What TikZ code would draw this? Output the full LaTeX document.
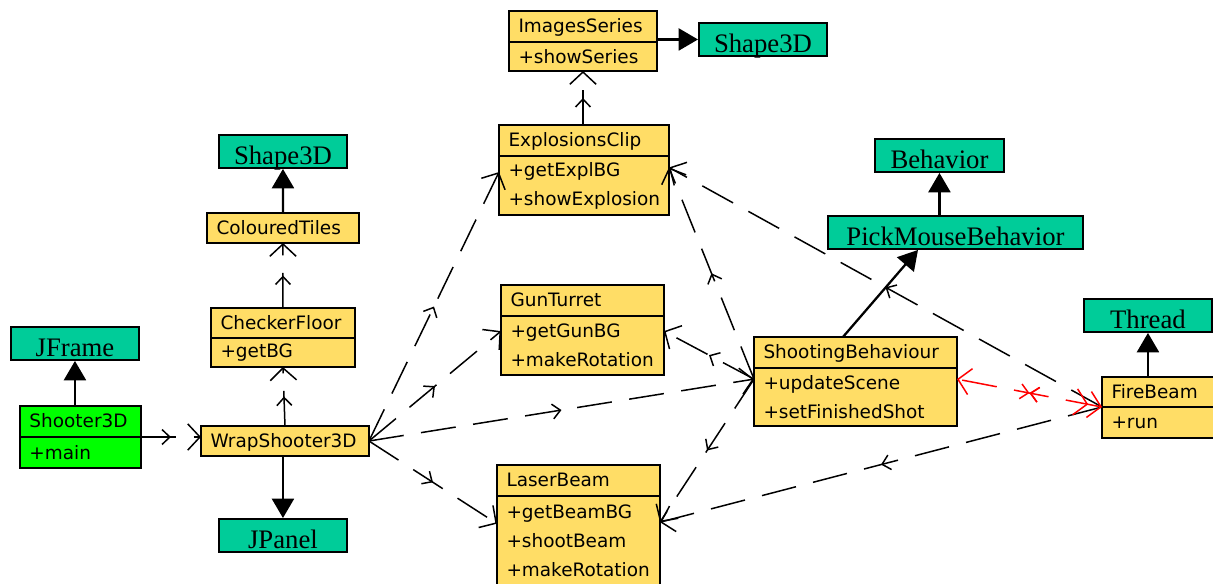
\documentclass[tikz,border=0pt]{standalone}
\usepackage{fontspec}
\setmainfont{Liberation Serif}
\newfontfamily\dlgfont{DejaVu Sans}
\usetikzlibrary{arrows.meta,decorations.markings}
\definecolor{clsyellow}{HTML}{FFDD66}
\definecolor{libgreen}{HTML}{00CC99}
\definecolor{maingreen}{HTML}{00FF00}
\tikzset{
  barb/.tip={Straight Barb[length=7pt,width=15pt]},
  midbarb/.tip={Straight Barb[length=4.5pt,width=8.5pt]},
  lib/.style={draw, line width=1.1pt, fill=libgreen, anchor=north west, inner sep=0pt,
    font=\fontsize{15.2}{18}\selectfont, text height=14.5pt, text depth=0pt,
    minimum width=#1, minimum height=0.66cm},
  hd/.style={draw, line width=1.1pt, fill=clsyellow, anchor=north west, inner xsep=0.19cm, inner ysep=0pt,
    outer sep=0pt, font=\dlgfont\fontsize{10.5}{16.5}\selectfont, align=left, text width=#1,
    text height=7.8pt, text depth=0.6pt, minimum height=0.62cm},
  bd/.style={draw, line width=1.1pt, fill=clsyellow, anchor=north, inner xsep=0.19cm, inner ysep=0pt,
    outer sep=0pt, font=\dlgfont\fontsize{10.5}{16.5}\selectfont, align=left, text width=#1},
  inh/.style={line width=1.3pt, -{Triangle[length=11pt,width=12.5pt]}},
  dep/.style={line width=0.85pt, dash pattern=on 20pt off 10pt, -barb, postaction={decorate},
    decoration={markings, mark=at position 0.5 with {\arrow{midbarb}}}},
}
\begin{document}
\begin{tikzpicture}[x=0.02cm,y=-0.02cm]
\useasboundingbox (0,0) rectangle (1213,583);
\clip (0,0) rectangle (1213,583);

% classes
\node[hd=2.58cm] (imgs) at (509,11) {ImagesSeries};
\node[bd=2.58cm, minimum height=0.58cm] (imgsB) at (imgs.south) {+showSeries};
\node[hd=3.02cm] (expl) at (499,125) {ExplosionsClip};
\node[bd=3.02cm, minimum height=1.18cm] (explB) at (expl.south) {+getExplBG\\+showExplosion};
\node[hd=2.88cm] (gun) at (501,285) {GunTurret};
\node[bd=2.88cm, minimum height=1.18cm] (gunB) at (gun.south) {+getGunBG\\+makeRotation};
\node[hd=2.88cm] (laser) at (497,465) {LaserBeam};
\node[bd=2.88cm, minimum height=1.80cm] (laserB) at (laser.south) {+getBeamBG\\+shootBeam\\+makeRotation};
\node[hd=3.68cm] (shoot) at (754,337) {ShootingBehaviour};
\node[bd=3.68cm, minimum height=1.16cm] (shootB) at (shoot.south) {+updateScene\\+setFinishedShot};
\node[hd=2.12cm, minimum height=0.60cm] (fire) at (1102,377) {FireBeam};
\node[bd=2.12cm, minimum height=0.62cm] (fireB) at (fire.south) {+run};
\node[hd=2.50cm, minimum height=0.60cm] (checker) at (211,308) {CheckerFloor};
\node[bd=2.50cm, minimum height=0.58cm] (checkerB) at (checker.south) {+getBG};
\node[hd=2.66cm, minimum height=0.60cm] (tiles) at (207,213) {ColouredTiles};
\node[hd=2.98cm, minimum height=0.60cm] (wrap) at (201,426) {WrapShooter3D};
\node[hd=2.04cm, fill=maingreen] (shooter) at (20,406) {Shooter3D};
\node[bd=2.04cm, fill=maingreen, minimum height=0.62cm] (shooterB) at (shooter.south) {+main};

% library classes
\node[lib=2.56cm] (shapeT) at (698,22) {Shape3D};
\node[lib=2.56cm] (shapeL) at (218,134) {Shape3D};
\node[lib=2.56cm] (jframe) at (10,326) {JFrame};
\node[lib=2.56cm] (jpanel) at (218,518) {JPanel};
\node[lib=2.58cm] (behavior) at (874,138) {Behavior};
\node[lib=5.10cm] (pickmouse) at (827,215) {PickMouseBehavior};
\node[lib=2.56cm] (thread) at (1083,298) {Thread};

% inheritance
\draw[inh] (imgs.east |- shapeT.west) -- (shapeT.west);
\draw[inh] (tiles.north) -- (shapeL.south);
\draw[inh] (shooter.north -| jframe.south) -- (jframe.south);
\draw[inh] (jpanel.north |- wrap.south) -- (jpanel.north);
\draw[inh] (behavior.south |- pickmouse.north) -- (behavior.south);
\draw[inh] (shoot.129) -- (pickmouse.205);
\draw[inh] (thread.south |- fire.north) -- (thread.south);

% dependencies
\draw[dep] (imgs.south |- expl.north) -- (imgsB.south);
\draw[dep] (checker.north) -- (tiles.south);
\draw[dep] (wrap.north) -- (checkerB.south);
\draw[dep] (shooter.south east) -- (shooter.south east -| wrap.west);
\draw[dep] (wrap.east) -- (explB.171);
\draw[dep] (wrap.east) -- (gunB.170);
\draw[dep] (wrap.east) -- (shootB.170);
\draw[dep] (wrap.east) -- (laserB.168);
\draw[dep] (shootB.170) -- (gunB.10);
\draw[dep] (shootB.170) -- (explB.12);
\draw[dep] (shootB.170) -- (laserB.13);
\draw[dep] (fire.south west) -- (explB.12);
\draw[dep] (fire.south west) -- (laserB.13);
\draw[dep, red, {barb[red] barb[red]}-barb,
  decoration={markings, mark=at position 0.5 with {\arrow{midbarb}\arrowreversed{midbarb}}}]
  (fire.south west) -- (shootB.10);
\end{tikzpicture}
\end{document}
